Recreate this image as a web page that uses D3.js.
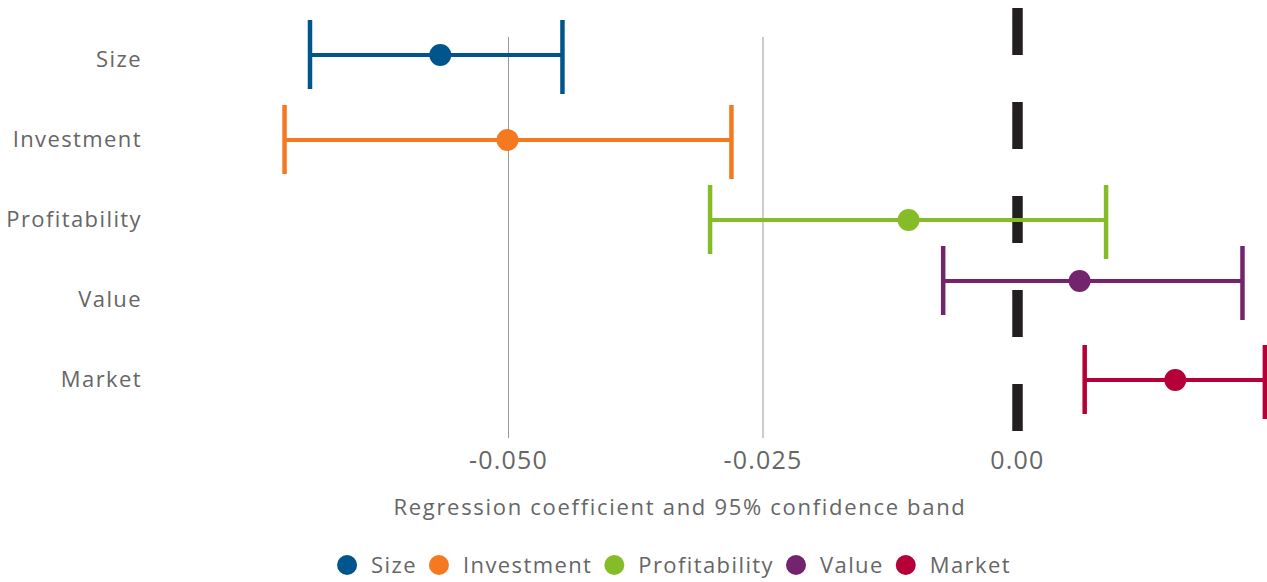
<!DOCTYPE html>
<html>
<head>
<meta charset="utf-8">
<script src="https://cdn.jsdelivr.net/npm/d3@7"></script>
<style>
  body { margin: 0; background: #fff; }
  text { font-family: "Open Sans", sans-serif; fill: #666; }
</style>
</head>
<body>
<svg id="chart" width="1267" height="582"></svg>
<script>
const factors = ["Size", "Investment", "Profitability", "Value", "Market"];
const coef  = [-0.0567, -0.0501, -0.0107, 0.0061, 0.0155];
const lower = [-0.0695, -0.0720, -0.0302, -0.0073, 0.0066];
const upper = [-0.0447, -0.0281, 0.0087, 0.0221, 0.0243];
const tickValues = [-0.05, -0.025, 0];
const tickLabels = ["-0.050", "-0.025", "0.00"];
const colors = ["#00558c", "#f47920", "#84bd27", "#74246c", "#b5003a"];

const svg = d3.select("#chart");

// small vertical nudges of each bar relative to its row label
const nudge = { Size: -4, Investment: 1, Profitability: 1, Value: -18, Market: 1 };

const data = factors.map((f, i) => ({
    factor: f, coef: coef[i], lo: lower[i], hi: upper[i], color: colors[i]
}));

const xScale = d3.scaleLinear()
    .domain([-0.05, 0])
    .range([508.5, 1017.5]);

const yScale = d3.scalePoint()
    .domain(factors)
    .range([59, 379]);

const gridTop = 37, gridBottom = 438;

// gridlines
svg.append("g")
    .selectAll("line")
    .data(tickValues.filter(v => v !== 0))
    .enter()
    .append("line")
    .attr("x1", d => xScale(d))
    .attr("x2", d => xScale(d))
    .attr("y1", gridTop)
    .attr("y2", gridBottom)
    .attr("stroke", "#999")
    .attr("stroke-width", 1);

// tick labels
svg.append("g")
    .selectAll("text")
    .data(tickValues)
    .enter()
    .append("text")
    .attr("x", d => xScale(d))
    .attr("y", 460)
    .attr("dy", "0.35em")
    .attr("text-anchor", "middle")
    .style("font-size", "25px")
    .style("letter-spacing", "1.2px")
    .text((d, i) => tickLabels[i]);

// zero reference line
svg.append("line")
    .attr("x1", xScale(0))
    .attr("x2", xScale(0))
    .attr("y1", 8)
    .attr("y2", 431)
    .attr("stroke", "#231f20")
    .attr("stroke-width", 10.5)
    .attr("stroke-dasharray", "47 47");

// row labels
svg.append("g")
    .selectAll("text")
    .data(factors)
    .enter()
    .append("text")
    .attr("x", 142)
    .attr("y", d => yScale(d))
    .attr("dy", "0.35em")
    .attr("text-anchor", "end")
    .style("font-size", "22px")
    .style("letter-spacing", "1.4px")
    .text(d => d);

// error bars
const bars = svg.append("g")
    .selectAll("g")
    .data(data)
    .enter()
    .append("g")
    .attr("transform", d => `translate(0, ${yScale(d.factor) + nudge[d.factor]})`);

bars.append("line")
    .attr("x1", d => xScale(d.lo))
    .attr("x2", d => xScale(d.hi))
    .attr("stroke", d => d.color)
    .attr("stroke-width", 4);

bars.append("line")
    .attr("x1", d => xScale(d.lo))
    .attr("x2", d => xScale(d.lo))
    .attr("y1", -35)
    .attr("y2", 34)
    .attr("stroke", d => d.color)
    .attr("stroke-width", 4.5);

bars.append("line")
    .attr("x1", d => xScale(d.hi))
    .attr("x2", d => xScale(d.hi))
    .attr("y1", -35)
    .attr("y2", 39)
    .attr("stroke", d => d.color)
    .attr("stroke-width", 4.5);

bars.append("circle")
    .attr("cx", d => xScale(d.coef))
    .attr("r", 11)
    .attr("fill", d => d.color);

// axis title
svg.append("text")
    .attr("x", 680)
    .attr("y", 507)
    .attr("dy", "0.35em")
    .attr("text-anchor", "middle")
    .style("font-size", "22px")
    .style("letter-spacing", "1.7px")
    .text("Regression coefficient and 95% confidence band");

// legend
const legend = svg.append("g").attr("transform", "translate(0, 565)");
const items = legend.selectAll("g")
    .data(data)
    .enter()
    .append("g");

items.append("circle")
    .attr("r", 10)
    .attr("fill", d => d.color);

items.append("text")
    .attr("x", 24)
    .attr("dy", "0.35em")
    .style("font-size", "22px")
    .style("letter-spacing", "1.4px")
    .text(d => d.factor);

let cursor = 0;
const offsets = [];
items.each(function() {
    const w = d3.select(this).select("text").node().getComputedTextLength();
    offsets.push(cursor);
    cursor += 24 + w + 22;
});
const total = cursor - 22 + 10;
const start = 674 - total / 2 + 10;
items.attr("transform", (d, i) => `translate(${start + offsets[i]}, 0)`);
</script>
</body>
</html>
